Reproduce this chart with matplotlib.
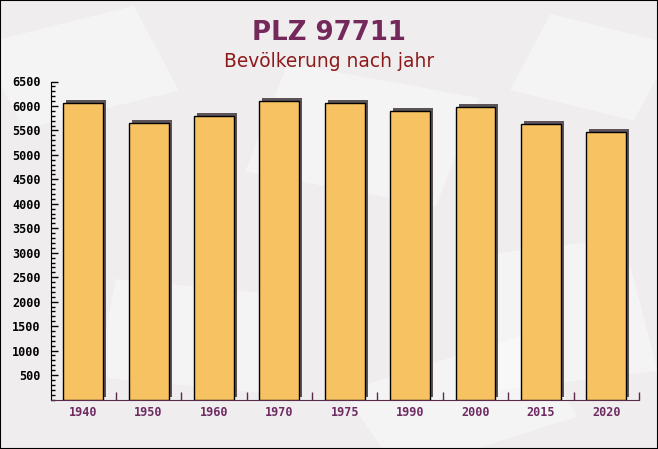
import numpy as np
import matplotlib
matplotlib.use("Agg")
import matplotlib.pyplot as plt
import matplotlib.transforms as mtransforms
from matplotlib.ticker import MultipleLocator, FixedLocator

years = ["1940", "1950", "1960", "1970", "1975", "1990", "2000", "2015", "2020"]
population = [6070, 5650, 5790, 6110, 6065, 5900, 5975, 5630, 5465]
y_ticks = [500, 1000, 1500, 2000, 2500, 3000, 3500, 4000, 4500, 5000, 5500, 6000, 6500]

title = "PLZ 97711"
subtitle = "Bevölkerung nach jahr"

bg = "#f0edef"
bar_color = "#f7c262"
shadow_color = "#5c5459"
title_color = "#74295a"
subtitle_color = "#8b1a1a"
xlabel_color = "#6e2b62"

fig = plt.figure(figsize=(6.58, 4.49), dpi=100)
fig.patch.set_facecolor(bg)

# faint background texture, kept behind the axes
bg_ax = fig.add_axes([0, 0, 1, 1], zorder=-5)
bg_ax.set_axis_off()
bg_ax.set_xlim(0, 1)
bg_ax.set_ylim(0, 1)
for (cx, cy, w, h, ang) in [(0.12, 0.85, 0.25, 0.2, 20), (0.55, 0.7, 0.3, 0.25, -15),
                            (0.85, 0.3, 0.25, 0.3, 10), (0.3, 0.25, 0.28, 0.22, -8),
                            (0.7, 0.1, 0.3, 0.2, 25), (0.9, 0.85, 0.2, 0.18, -20)]:
    bg_ax.add_patch(plt.Rectangle((cx - w / 2, cy - h / 2), w, h, angle=ang,
                                  rotation_point="center", facecolor="white",
                                  alpha=0.4, edgecolor="none"))

ax = fig.add_axes([50.5 / 658, 49.5 / 449, (639 - 50.5) / 658, (399.5 - 81.5) / 449])
ax.set_facecolor("none")

x = np.arange(len(years))
width = 0.61

shadow_tr = mtransforms.offset_copy(ax.transData, fig=fig, x=3, y=3, units="dots")
ax.bar(x, population, width=width, color=shadow_color, transform=shadow_tr,
       zorder=2, clip_on=False)
ax.bar(x, population, width=width, color=bar_color, edgecolor="black",
       linewidth=1.0, zorder=3)

ax.set_xlim(-0.5, len(years) - 0.5)
ax.set_ylim(0, 6500)

for side in ["top", "right"]:
    ax.spines[side].set_visible(False)
ax.spines["left"].set_color("black")
ax.spines["bottom"].set_color("#5a2a4a")

ax.yaxis.set_major_locator(FixedLocator(y_ticks))
ax.yaxis.set_minor_locator(MultipleLocator(100))
ax.tick_params(axis="y", which="major", direction="in", length=5, width=1, colors="black",
               labelsize=8.5, pad=7)
ax.tick_params(axis="y", which="minor", direction="in", length=3, width=1, color="black")

ax.set_xticks(x)
ax.set_xticklabels(years)
ax.xaxis.set_minor_locator(FixedLocator(np.arange(0.5, len(years), 1.0)))
ax.tick_params(axis="x", which="major", length=0, labelsize=8.5, labelcolor=xlabel_color, pad=5)
ax.tick_params(axis="x", which="minor", direction="in", length=6, width=1, color="#5a2a4a")

for lab in ax.get_yticklabels() + ax.get_xticklabels():
    lab.set_fontfamily("DejaVu Sans Mono")
    lab.set_fontweight("bold")

fig.text(0.5, 1 - 40 / 449, title, ha="center", va="baseline", fontsize=18.7,
         fontweight="bold", color=title_color)
fig.text(0.5, 1 - 67 / 449, subtitle, ha="center", va="baseline", fontsize=13.4,
         color=subtitle_color)

border = plt.Rectangle((0, 0), 1, 1, transform=fig.transFigure, fill=False,
                       edgecolor="black", linewidth=1.5, zorder=10)
fig.patches.append(border)

fig.savefig("out.png", dpi=100, facecolor=bg)
